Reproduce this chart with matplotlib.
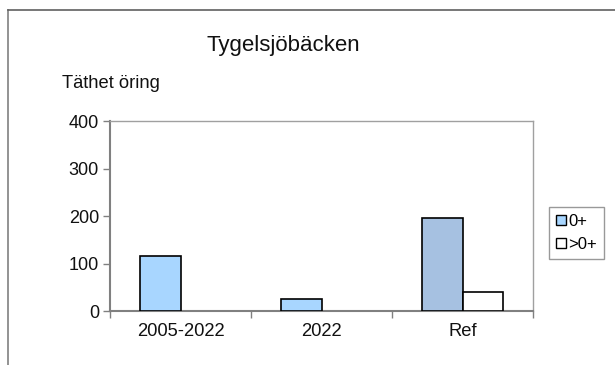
import matplotlib
matplotlib.use("Agg")
import matplotlib.pyplot as plt
from matplotlib.lines import Line2D
from matplotlib.patches import Patch
import numpy as np

plt.rcParams['font.family'] = ['Liberation Sans', 'DejaVu Sans']

categories = ["2005-2022", "2022", "Ref"]
yoy = [116, 25, 196]          # 0+
older = [0, 0, 40]            # >0+
yoy_colors = ["#A8D6FF", "#A8D6FF", "#A6C1E1"]
older_color = "#FFFFFF"

title = "Tygelsjöbäcken"
ylabel = "Täthet öring"
yticks = [0, 100, 200, 300, 400]

fig = plt.figure(figsize=(6.15, 3.65), dpi=100)
ax = fig.add_axes([110/615, 1 - 311/365, (533 - 110)/615, (311 - 121)/365])

x = np.arange(len(categories))
w = 0.287
ax.bar(x - w/2, yoy, width=w, color=yoy_colors, edgecolor="black",
       linewidth=[1.2 if v > 0 else 0 for v in yoy], zorder=3)
ax.bar(x + w/2, older, width=w, color=older_color, edgecolor="black",
       linewidth=[1.2 if v > 0 else 0 for v in older], zorder=3)

ax.set_xlim(-0.5, len(categories) - 0.5)
ax.set_ylim(0, 400)
ax.set_yticks(yticks)
ax.tick_params(axis='y', direction='out', length=5, width=1, color="#808080",
               labelsize=13, pad=3, labelcolor="#111111")

# category boundaries carry the ticks, centres carry the labels
ax.set_xticks(np.arange(len(categories) + 1) - 0.5)
ax.set_xticklabels([])
ax.tick_params(axis='x', which='major', direction='out', length=5, width=1, color="#808080")
ax.set_xticks(x, minor=True)
ax.set_xticklabels(categories, minor=True)
ax.tick_params(axis='x', which='minor', length=0, pad=9, labelsize=13.2, labelcolor="#111111")

for side in ["left", "bottom"]:
    ax.spines[side].set_color("#808080")
    ax.spines[side].set_linewidth(1.5)
for side in ["top", "right"]:
    ax.spines[side].set_color("#A0A0A0")
    ax.spines[side].set_linewidth(1.0)

fig.text(283/615, 1 - 45/365, title, ha="center", va="center", fontsize=16, color="#111111")
fig.text(62/615, 1 - 83/365, ylabel, ha="left", va="center", fontsize=13.2, color="#111111")

# outer chart frame
fig.add_artist(Line2D([8/615, 8/615], [0, 1 - 10/365], transform=fig.transFigure,
                      color="#808080", linewidth=1.2))
fig.add_artist(Line2D([8/615, 1], [1 - 10/365, 1 - 10/365], transform=fig.transFigure,
                      color="#606060", linewidth=1.2))

handles = [Patch(facecolor=yoy_colors[0], edgecolor="black", linewidth=1.0),
           Patch(facecolor=older_color, edgecolor="black", linewidth=1.0)]
leg = fig.legend(handles, ["0+", ">0+"], loc="upper left",
                 bbox_to_anchor=(549/615, 1 - 207/365), bbox_transform=fig.transFigure,
                 fontsize=12, frameon=True, fancybox=False, shadow=False,
                 handlelength=0.6, handleheight=0.6, handletextpad=0.15,
                 borderpad=0.4, labelspacing=0.5, borderaxespad=0)
leg.get_frame().set_edgecolor("#808080")
leg.get_frame().set_linewidth(1.0)

fig.savefig("out.png", dpi=100, facecolor="white")
